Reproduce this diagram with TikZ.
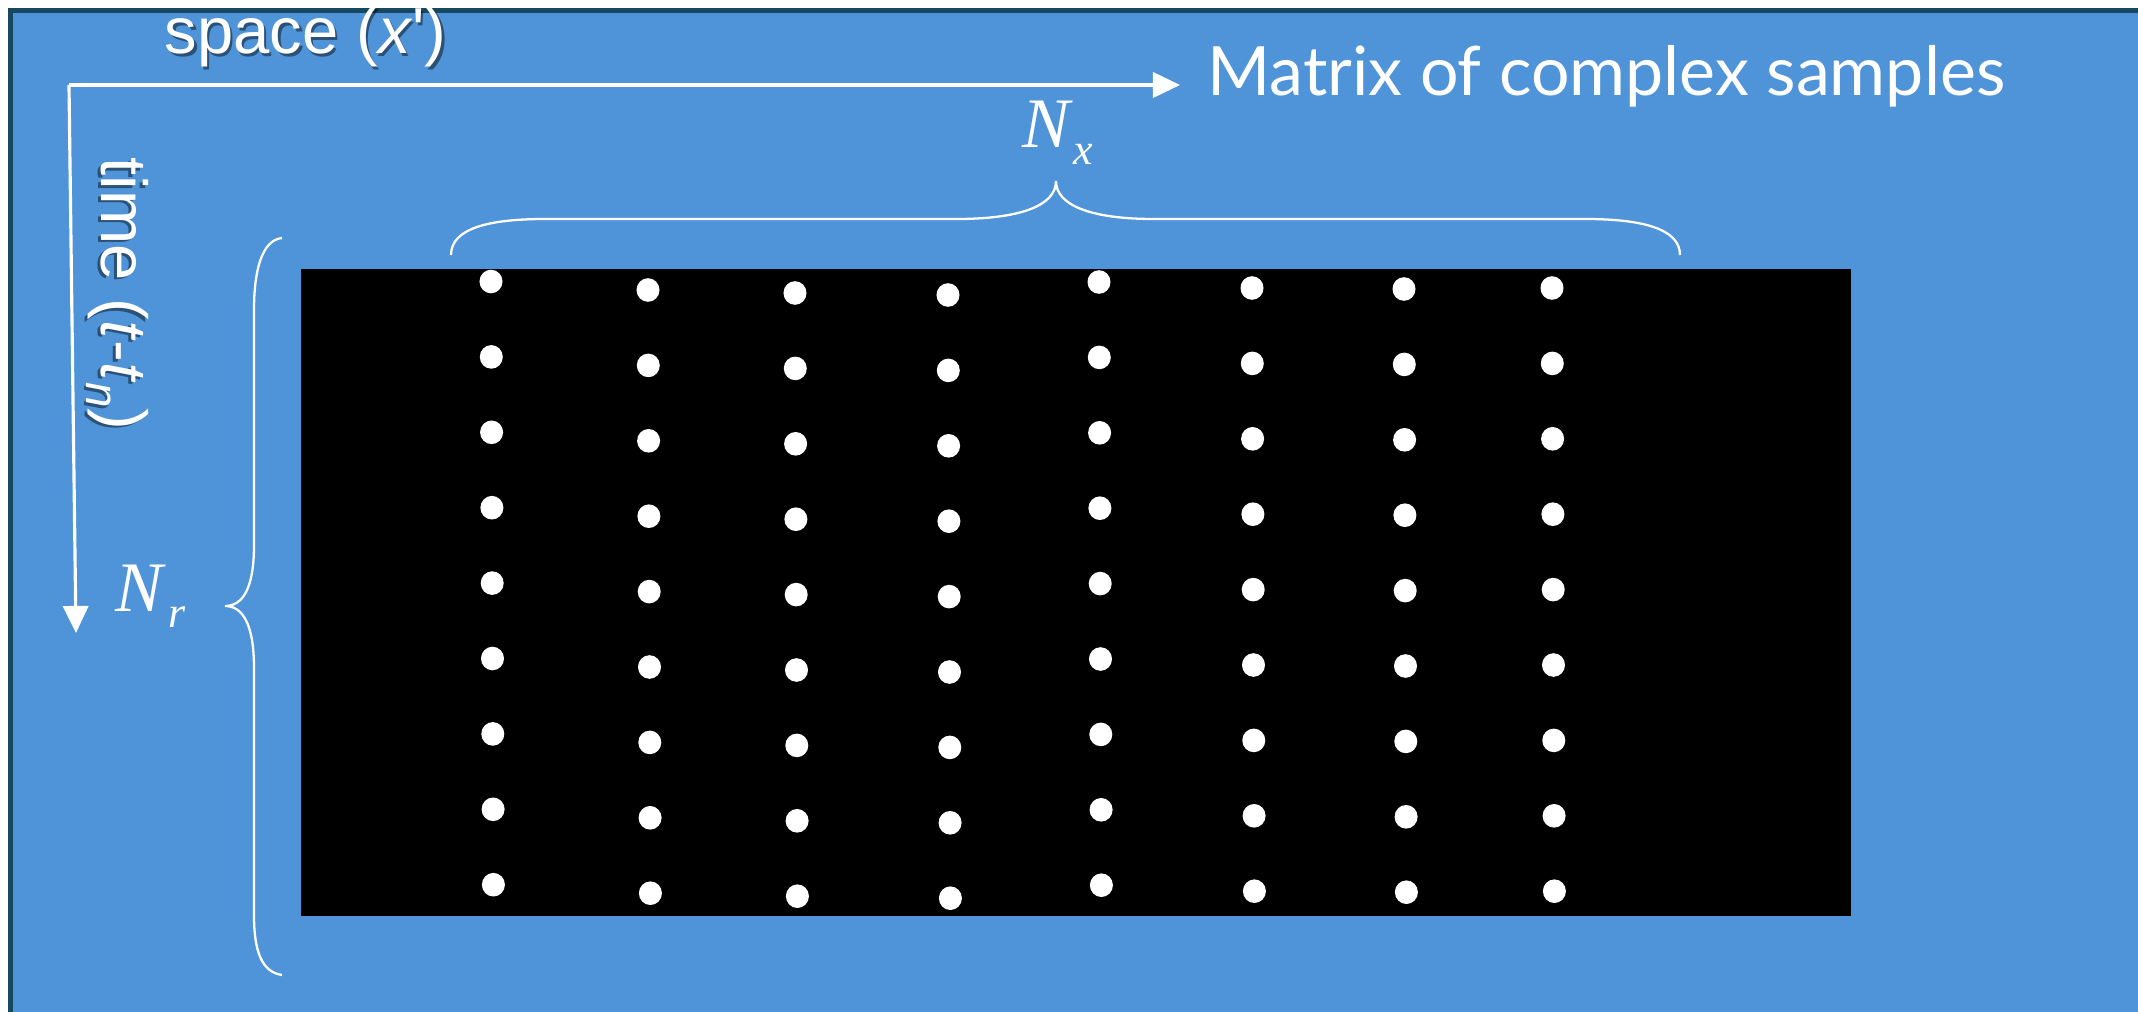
\documentclass[tikz,border=0pt]{standalone}
\usepackage{fontspec}
\usepackage{graphicx}
\setmainfont{Liberation Sans}
\newfontfamily\timesf{Liberation Serif}
\newfontfamily\comicf{Lato}
\usetikzlibrary{arrows.meta}
\definecolor{slideblue}{RGB}{79,148,216}
\definecolor{slideedge}{RGB}{22,72,96}
\begin{document}
\begin{tikzpicture}[x=0.01cm,y=-0.01cm,
  axisline/.style={white, line width=0.9pt, -{Triangle[length=7.7pt,width=7.2pt]}},
  bracel/.style={white, line width=0.65pt},
  lbl/.style={inner sep=0pt, text=white, font=\fontsize{18.5pt}{22pt}\selectfont},
  shade/.style={text=black, text opacity=0.45},
  mathlbl/.style={inner sep=0pt, text=white, font=\timesf\fontsize{20.2pt}{22pt}\selectfont},
  dot/.style={white}
]
\fill[white] (0,0) rectangle (2138,1012);
\useasboundingbox (0,0) rectangle (2138,1012);
\fill[slideedge] (8,8) rectangle (2138,1012);
\fill[slideblue] (12.5,12.5) rectangle (2138,1012);

% matrix area
\fill[black] (301,269) rectangle (1851,916);
\foreach \cx/\cy in {491/281.5,648/290,795/293,948/295,1099/282,1252/288,1404/289,1552/288}{
  \foreach \r in {0,...,8}{
    \fill[dot] (\cx+0.3*\r,\cy+75.4*\r) ellipse [x radius=0.115cm, y radius=0.118cm];
  }
}

% axes
\coordinate (O) at (69,85);
\coordinate (xend) at (1180,85);
\coordinate (tend) at (76,633);
\draw[axisline] (O) -- (xend);
\draw[axisline] (O) -- (tend);

% labels
\node[lbl, shade, anchor=base west] at (166.5,56.5) {space (\textit{x}\textquotesingle)};
\node[lbl, anchor=base west] (space) at (164,54) {space (\textit{x}\textquotesingle)};

\node[lbl, shade, rotate=-90, anchor=base west] at (98.5,159.5) {time (\textit{t}-\textit{t}\raisebox{-0.22em}{\fontsize{13pt}{13pt}\selectfont\textit{n}})};
\node[lbl, rotate=-90, anchor=base west] (time) at (101,157) {time (\textit{t}-\textit{t}\raisebox{-0.22em}{\fontsize{13pt}{13pt}\selectfont\textit{n}})};

\node[inner sep=0pt, text=white, anchor=base west] (title) at (1207,95) {\resizebox{7.97cm}{!}{\comicf Matrix of complex samples}};

\node[mathlbl, anchor=base west] (Nx) at (1022,147) {\textit{N}\raisebox{-5pt}{\fontsize{12.5pt}{13pt}\selectfont\textit{x}}};
\node[mathlbl, anchor=base west] (Nr) at (115,611) {\textit{N}\kern0.5pt\raisebox{-4.7pt}{\fontsize{12.5pt}{13pt}\selectfont\textit{r}}};

% Nx brace
\draw[bracel] (451,255) .. controls (451,228) and (490,219) .. (545,219)
  -- (956,219) .. controls (1022,219) and (1056,205) .. (1056,181)
  .. controls (1056,205) and (1090,219) .. (1154,219)
  -- (1585,219) .. controls (1640,219) and (1680,228) .. (1680,255);

% Nr brace
\draw[bracel] (282,238) .. controls (262,240) and (254,270) .. (254,310)
  -- (254,545) .. controls (254,590) and (242,606) .. (225,606)
  .. controls (242,606) and (254,623) .. (254,668)
  -- (254,915) .. controls (254,952) and (262,972) .. (282,975);
\end{tikzpicture}
\end{document}
